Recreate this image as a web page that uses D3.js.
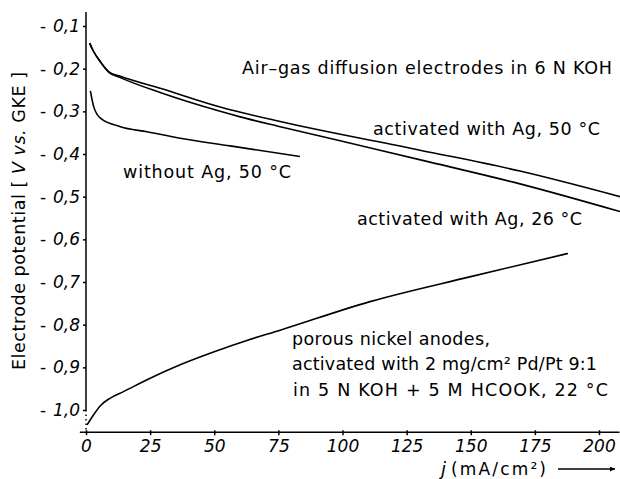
<!doctype html>
<html lang="en">
<head>
  <meta charset="utf-8">
  <script src="https://d3js.org/d3.v7.min.js"></script>
  <title>Air-gas diffusion electrodes in 6 N KOH</title>
  <style type="text/css">
    html,
    body {
      margin: 0;
      padding: 0;
      background: #fff;
    }

    svg {
      display: block;
    }

    text {
      font-family: "DejaVu Sans", "Liberation Sans", sans-serif;
      fill: #000;
    }
  </style>
</head>

<body>
<script>
  // tick values and labels (comma decimals as in the original)
  var yTicks = [0.1, 0.2, 0.3, 0.4, 0.5, 0.6, 0.7, 0.8, 0.9, 1.0];
  var yTickLabels = ["0,1", "0,2", "0,3", "0,4", "0,5", "0,6", "0,7", "0,8", "0,9", "1,0"];
  var xTicks = [0, 25, 50, 75, 100, 125, 150, 175, 200];
  var xTickLabels = ["0", "25", "50", "75", "100", "125", "150", "175", "200"];

  // activated with Ag, 50 °C  (current mA/cm², potential V)
  var ag50Current = [1.4, 2.8, 5.6, 8.8, 13.4, 28.9, 52.3, 75.7, 130.2, 169.2, 208.2];
  var ag50Potential = [0.140, 0.158, 0.184, 0.207, 0.218, 0.246, 0.290, 0.324, 0.391, 0.440, 0.500];

  // activated with Ag, 26 °C
  var ag26Current = [1.4, 2.8, 5.6, 8.8, 13.4, 28.9, 52.3, 60.1, 75.7, 114.6, 134.1, 169.2, 208.2];
  var ag26Potential = [0.140, 0.158, 0.184, 0.208, 0.221, 0.256, 0.300, 0.313, 0.336, 0.391, 0.419, 0.470, 0.535];

  // without Ag, 50 °C
  var noAgCurrent = [1.7, 3.0, 5.6, 13.4, 23.8, 36.7, 56.2, 83.4];
  var noAgPotential = [0.252, 0.289, 0.316, 0.336, 0.348, 0.363, 0.381, 0.406];

  // porous nickel anodes, Pd/Pt 9:1, 5 N KOH + 5 M HCOOK, 22 °C
  var nickelCurrent = [0.4, 3.0, 5.6, 9.5, 14.6, 23.8, 36.7, 49.7, 62.7, 75.7, 110.7, 149.6, 187.9];
  var nickelPotential = [1.035, 1.011, 0.990, 0.972, 0.957, 0.929, 0.894, 0.864, 0.837, 0.813, 0.746, 0.688, 0.633];

  var width = 620, height = 479;

  var xScale = d3.scaleLinear().domain([0, 200]).range([86, 599]);
  var yScale = d3.scaleLinear().domain([0.1, 1.0]).range([26, 410]);

  var svg = d3.select("body").append("svg")
    .attr("width", width)
    .attr("height", height);

  // y axis: solid line down to 1,0 then dotted to the x axis
  svg.append("line")
    .attr("x1", xScale(0)).attr("x2", xScale(0))
    .attr("y1", yScale(0.067)).attr("y2", yScale(1.0))
    .attr("stroke", "#000").attr("stroke-width", 1.5);
  svg.append("line")
    .attr("x1", xScale(0)).attr("x2", xScale(0))
    .attr("y1", yScale(1.0)).attr("y2", yScale(1.052))
    .attr("stroke", "#000").attr("stroke-width", 1.5)
    .attr("stroke-dasharray", "1.5,3");

  // x axis line
  svg.append("line")
    .attr("x1", xScale(-2.4)).attr("x2", xScale(208))
    .attr("y1", yScale(1.052)).attr("y2", yScale(1.052))
    .attr("stroke", "#000").attr("stroke-width", 1.5);

  var yAxis = svg.append("g")
    .attr("transform", "translate(" + xScale(0) + ",0)")
    .call(d3.axisLeft(yScale).tickValues(yTicks)
      .tickFormat(function(d, i) { return yTickLabels[i]; })
      .tickSize(3).tickPadding(3));
  yAxis.select(".domain").remove();
  yAxis.selectAll(".tick line").attr("stroke", "#000").attr("stroke-width", 1.5);
  yAxis.selectAll(".tick text")
    .attr("font-family", "Liberation Sans, Arial, sans-serif")
    .attr("font-size", 17)
    .attr("font-style", "italic")
    .attr("fill", "#000");
  // leading dash before each value
  yAxis.selectAll(".tick").append("text")
    .attr("x", -43)
    .attr("dy", "0.32em")
    .attr("text-anchor", "middle")
    .attr("font-family", "Liberation Sans, Arial, sans-serif")
    .attr("font-size", 17)
    .attr("fill", "#000")
    .text("-");

  var xAxis = svg.append("g")
    .attr("transform", "translate(0," + yScale(1.052) + ")")
    .call(d3.axisBottom(xScale).tickValues(xTicks)
      .tickFormat(function(d, i) { return xTickLabels[i]; })
      .tickSize(3).tickPadding(5));
  xAxis.select(".domain").remove();
  xAxis.selectAll(".tick line").attr("stroke", "#000").attr("stroke-width", 1.5).attr("y1", -2);
  xAxis.selectAll(".tick text")
    .attr("font-family", "Liberation Sans, Arial, sans-serif")
    .attr("font-size", 17)
    .attr("font-style", "italic")
    .attr("fill", "#000");

  // curves
  var series = [
    [ag50Current, ag50Potential],
    [ag26Current, ag26Potential],
    [noAgCurrent, noAgPotential],
    [nickelCurrent, nickelPotential]
  ];

  var line = d3.line()
    .x(function(d) { return xScale(d[0]); })
    .y(function(d) { return yScale(d[1]); })
    .curve(d3.curveMonotoneX);

  svg.append("g")
    .selectAll("path")
    .data(series)
    .enter()
    .append("path")
    .attr("d", function(s) { return line(d3.zip(s[0], s[1])); })
    .attr("fill", "none")
    .attr("stroke", "#000")
    .attr("stroke-width", 1.6);

  // annotations
  var notes = [
    { text: "Air–gas diffusion electrodes in 6 N KOH", x: 242, y: 74, w: 370 },
    { text: "activated with Ag, 50 °C", x: 373, y: 135, w: 227 },
    { text: "without Ag, 50 °C", x: 123, y: 178, w: 168 },
    { text: "activated with Ag, 26 °C", x: 357, y: 225, w: 225 },
    { text: "porous nickel anodes,", x: 292, y: 345, w: 198 },
    { text: "activated with 2 mg/cm² Pd/Pt 9:1", x: 292, y: 370, w: 305 },
    { text: "in 5 N KOH + 5 M HCOOK, 22 °C", x: 293, y: 396, w: 315 }
  ];

  svg.append("g")
    .selectAll("text")
    .data(notes)
    .enter()
    .append("text")
    .attr("x", function(d) { return d.x; })
    .attr("y", function(d) { return d.y; })
    .attr("textLength", function(d) { return d.w; })
    .attr("lengthAdjust", "spacing")
    .style("font-size", "17.5px")
    .text(function(d) { return d.text; });

  // y-axis title
  var yTitle = svg.append("text")
    .attr("transform", "translate(25,221) rotate(-90)")
    .attr("text-anchor", "middle")
    .attr("textLength", 298)
    .attr("lengthAdjust", "spacing")
    .style("font-size", "17.5px");
  yTitle.append("tspan").text("Electrode potential [ ");
  yTitle.append("tspan").style("font-style", "italic").text("V vs.");
  yTitle.append("tspan").text(" GKE ]");

  // x-axis title with arrow
  svg.append("text")
    .attr("x", 441)
    .attr("y", 475)
    .style("font-size", "18px")
    .style("font-style", "italic")
    .text("j");
  svg.append("text")
    .attr("x", 451)
    .attr("y", 475)
    .attr("textLength", 95)
    .attr("lengthAdjust", "spacing")
    .style("font-size", "17px")
    .text("(mA/cm²)");

  svg.append("defs").append("marker")
    .attr("id", "arrow")
    .attr("viewBox", "0 0 10 10")
    .attr("refX", 10).attr("refY", 5)
    .attr("markerWidth", 9).attr("markerHeight", 5)
    .attr("markerUnits", "userSpaceOnUse")
    .attr("orient", "auto")
    .append("path")
    .attr("d", "M0,0L10,5L0,10z")
    .attr("fill", "#000");

  svg.append("line")
    .attr("x1", 558).attr("x2", 615)
    .attr("y1", 469).attr("y2", 469)
    .attr("stroke", "#000").attr("stroke-width", 1.3)
    .attr("marker-end", "url(#arrow)");
</script>
</body>
</html>
